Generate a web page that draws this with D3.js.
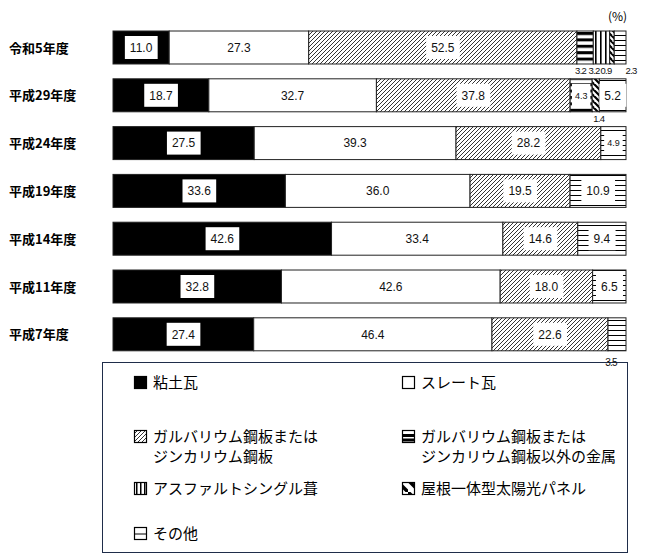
<!DOCTYPE html>
<html><head><meta charset="utf-8">
<script src="https://cdn.jsdelivr.net/npm/d3@7"></script>
<style>body{margin:0;background:#fff}svg{display:block}</style>
</head><body><svg id="c" width="654" height="558"></svg>
<script>
const years = ["令和5年度","平成29年度","平成24年度","平成19年度","平成14年度","平成11年度","平成7年度"];
const categories = ["粘土瓦","スレート瓦","ガルバリウム鋼板またはジンカリウム鋼板","ガルバリウム鋼板またはジンカリウム鋼板以外の金属","アスファルトシングル葺","屋根一体型太陽光パネル","その他"];
const clay      = [11.0, 18.7, 27.5, 33.6, 42.6, 32.8, 27.4];
const slate     = [27.3, 32.7, 39.3, 36.0, 33.4, 42.6, 46.4];
const galvalume = [52.5, 37.8, 28.2, 19.5, 14.6, 18.0, 22.6];
const otherMetal= [3.2, 4.3, 0, 0, 0, 0, 0];
const asphalt   = [3.2, 0, 0, 0, 0, 0, 0];
const solar     = [0.9, 1.4, 0, 0, 0, 0, 0];
const other     = [2.3, 5.2, 4.9, 10.9, 9.4, 6.5, 3.5];
const series = [clay, slate, galvalume, otherMetal, asphalt, solar, other];

const svg = d3.select("#c");
const defs = svg.append("defs");
function pat(id,w,h,draw){const p=defs.append("pattern").attr("id",id).attr("patternUnits","userSpaceOnUse").attr("width",w).attr("height",h);p.append("rect").attr("width",w).attr("height",h).attr("fill","#fff");draw(p);}
pat("pGalv",4,4,p=>p.append("path").attr("d","M-1,1 l2,-2 M0,4 l4,-4 M3,5 l2,-2").attr("stroke","#000").attr("stroke-width",0.8));
pat("pMetal",6,6.4,p=>p.append("rect").attr("y",0).attr("width",6).attr("height",3).attr("fill","#000"));
pat("pAsph",5,5,p=>p.append("rect").attr("x",0).attr("width",1.6).attr("height",5).attr("fill","#000"));
pat("pSolar",6,6,p=>p.append("path").attr("d","M-1,-1 l8,8 M-4,2 l4,4 M5,-1 l2,2").attr("stroke","#000").attr("stroke-width",2.2));
pat("pOther",5,5,p=>p.append("rect").attr("y",0).attr("width",5).attr("height",1).attr("fill","#000"));
const fills = ["#000","#fff","url(#pGalv)","url(#pMetal)","url(#pAsph)","url(#pSolar)","url(#pOther)"];

const x = d3.scaleLinear().domain([0,100]).range([113,626]);
const y = d3.scaleBand().domain(years).range([23.6,358.2]).paddingInner(0.31).paddingOuter(0.155);
const num = "Liberation Sans, Arial, sans-serif";
const jp = "'Noto Sans CJK JP', sans-serif";

// year labels
svg.append("g").selectAll("text").data(years).join("text")
  .attr("x",9).attr("y",d=>y(d)+y.bandwidth()/2+5)
  .attr("font-family",jp).attr("font-size",13).attr("font-weight","bold").text(d=>d);

// segments (each bar scaled to its own published total)
const segs=[];
years.forEach((yr,i)=>{
  const total=d3.sum(series,s=>s[i]);
  let acc=0;
  series.forEach((s,k)=>{const v=s[i];if(v>0){segs.push({yr,i,k,v,x0:acc/total*100,x1:(acc+v)/total*100});acc+=v;}});
});
svg.append("g").selectAll("rect").data(segs).join("rect")
  .attr("x",d=>x(d.x0)).attr("y",d=>y(d.yr)).attr("width",d=>x(d.x1)-x(d.x0)).attr("height",y.bandwidth())
  .attr("fill",d=>fills[d.k]).attr("stroke","#222").attr("stroke-width",1);

// labels
const below = {"0-3":-4.5,"0-4":-7.5,"0-5":-6,"0-6":11,"1-5":3};
const smallInside = {"1-3":1,"2-6":1};
const lab = svg.append("g");
segs.forEach(d=>{
  const key=d.i+"-"+d.k;
  const cx=(x(d.x0)+x(d.x1))/2, cy=y(d.yr)+y.bandwidth()/2;
  const txt=d.v.toFixed(1);
  if(key in below){
    lab.append("text").attr("x",cx+below[key]).attr("y",y(d.yr)+y.bandwidth()+10)
      .attr("text-anchor","middle").attr("font-family",num).attr("font-size",9.5).attr("letter-spacing",-0.7).attr("fill","#111").text(txt);
    return;
  }
  if(key==="6-6") return;
  const fs = smallInside[key]?9:12;
  const t = lab.append("text").attr("x",cx).attr("y",cy+fs*0.36).attr("text-anchor","middle")
    .attr("font-family",num).attr("font-size",fs).attr("fill","#111").text(txt);
  const bb=t.node().getBBox();
  const padX = smallInside[key]?3:5, h = 23;
  lab.insert("rect",":first-child").attr("x",bb.x-padX).attr("y",cy-h/2).attr("width",bb.width+2*padX).attr("height",h).attr("fill","#fff");
});

svg.append("text").attr("x",608).attr("y",21).attr("font-family",jp).attr("font-size",12).text("(%)");

// legend
const L = svg.append("g");
L.append("rect").attr("x",102.5).attr("y",362.5).attr("width",525).attr("height",190).attr("fill","#fff").attr("stroke","#1f2d4a").attr("stroke-width",1);
// 平成7年度 その他 label sits on the legend's top border
segs.filter(d=>d.i===6&&d.k===6).forEach(d=>{
  svg.append("text").attr("x",(x(d.x0)+x(d.x1))/2-6).attr("y",366).attr("text-anchor","middle")
    .attr("font-family",num).attr("font-size",10).attr("letter-spacing",-0.8).attr("fill","#111").text(d.v.toFixed(1));
});
const legItems = [
  {k:0,col:0,row:0,lines:[categories[0]]},
  {k:1,col:1,row:0,lines:[categories[1]]},
  {k:2,col:0,row:1,lines:["ガルバリウム鋼板または","ジンカリウム鋼板"]},
  {k:3,col:1,row:1,lines:["ガルバリウム鋼板または","ジンカリウム鋼板以外の金属"]},
  {k:4,col:0,row:2,lines:[categories[4]]},
  {k:5,col:1,row:2,lines:[categories[5]]},
  {k:6,col:0,row:3,lines:[categories[6]]}
];
const colX=[134,402], rowY=[382,436,488,533];
const legPat = ["#000","#fff","url(#pGalv)","url(#pMetalL)","url(#pAsphL)","url(#pSolarL)","url(#pOtherL)"];
pat("pMetalL",12,12,p=>{p.append("rect").attr("y",2).attr("width",12).attr("height",3).attr("fill","#000");p.append("rect").attr("y",6.5).attr("width",12).attr("height",3).attr("fill","#000");});
pat("pAsphL",4,12,p=>p.append("rect").attr("x",0).attr("width",1.5).attr("height",12).attr("fill","#000"));
pat("pSolarL",12,12,p=>p.append("path").attr("d","M0,0 L12,12").attr("stroke","#000").attr("stroke-width",3.5));
pat("pOtherL",12,12,p=>p.append("rect").attr("y",5.5).attr("width",12).attr("height",1).attr("fill","#000"));
legItems.forEach(it=>{
  const gx=colX[it.col], gy=rowY[it.row];
  L.append("rect").attr("x",gx+0.5).attr("y",gy-6+0.5).attr("width",12).attr("height",12)
    .attr("fill",legPat[it.k]).attr("stroke","#000").attr("stroke-width",1.2);
  it.lines.forEach((ln,j)=>{
    L.append("text").attr("x",gx+19).attr("y",gy+6+j*20).attr("font-family",jp).attr("font-size",15).attr("fill","#000").text(ln);
  });
});
</script></body></html>
